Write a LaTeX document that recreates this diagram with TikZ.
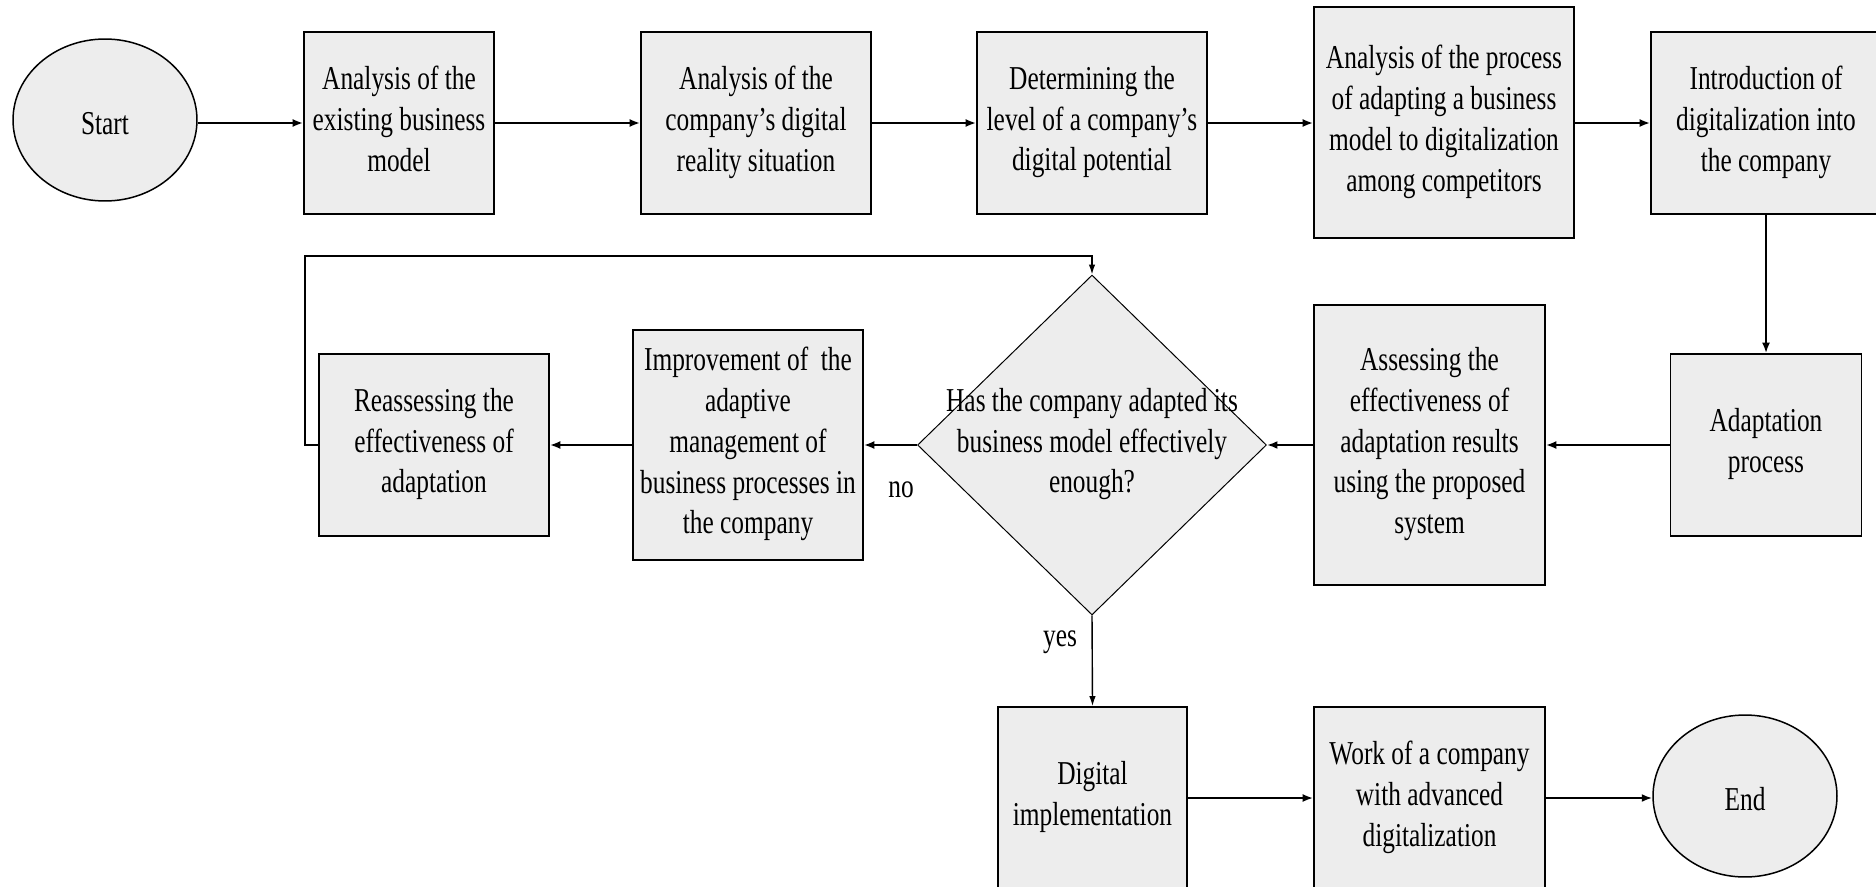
\documentclass[tikz,border=0pt]{standalone}
\usepackage{fontspec}
\setmainfont{Liberation Serif}[FakeStretch=0.76]
\usetikzlibrary{arrows.meta,shapes.geometric}
\definecolor{boxfill}{RGB}{237,237,237}
\newcommand\topstrut{\rule{0pt}{21pt}}
\newcommand\botstrut{\rule[-5pt]{0pt}{1pt}}
\tikzset{
  txt/.style={font=\fontsize{19}{23.2}\selectfont, align=center, execute at begin node=\topstrut, execute at end node=\botstrut},
  stepbox/.style={draw=black, line width=0.035cm, fill=boxfill, txt, inner sep=0pt},
  term/.style={draw=black, line width=0.03cm, fill=boxfill, ellipse, txt, inner sep=0pt, minimum width=3.68cm, minimum height=3.24cm},
  decision/.style={draw=black, line width=0.02cm, fill=boxfill, diamond, inner sep=0pt, minimum width=6.98cm, minimum height=6.8cm},
  arr/.style={line width=0.04cm, -{Latex[length=0.21cm,width=0.16cm]}},
  thinarr/.style={line width=0.028cm, -{Latex[length=0.2cm,width=0.13cm]}},
  lbl/.style={font=\fontsize{19}{23.2}\selectfont, inner sep=0pt}
}
\begin{document}
\begin{tikzpicture}[x=0.02cm,y=-0.02cm]
\useasboundingbox (0,0) rectangle (1876,886);
\clip (0,0) rectangle (1876,886);
% top row
\node[term] (start) at (105,120) {Start};
\node[stepbox, minimum width=3.8cm, minimum height=3.64cm] (b1) at (399,123) {Analysis of the\\existing business\\model};
\node[stepbox, minimum width=4.6cm, minimum height=3.64cm] (b2) at (756,123) {Analysis of the\\company’s digital\\reality situation};
\node[stepbox, minimum width=4.6cm, minimum height=3.64cm] (b3) at (1092,123) {Determining the\\level of a company’s\\digital potential};
\node[stepbox, minimum width=5.2cm, minimum height=4.62cm] (b4) at (1444,122.5) {Analysis of the process\\of adapting a business\\model to digitalization\\among competitors};
\node[stepbox, minimum width=4.6cm, minimum height=3.64cm] (b5) at (1766,123) {Introduction of\\digitalization into\\the company};
% middle row
\node[stepbox, minimum width=3.82cm, minimum height=3.64cm] (adapt) at (1766,445) {Adaptation\\process};
\node[stepbox, minimum width=4.62cm, minimum height=5.6cm] (assess) at (1429.5,445) {Assessing the\\effectiveness of\\adaptation results\\using the proposed\\system};
\node[decision] (dec) at (1092,445) {};
\node[txt, inner sep=0pt] (dectext) at (dec.center) {Has the company adapted its\\business model effectively\\enough?};
\node[stepbox, minimum width=4.6cm, minimum height=4.6cm] (improve) at (748,445) {Improvement of\ \ the\\adaptive\\management of\\business processes in\\the company};
\node[stepbox, minimum width=4.6cm, minimum height=3.64cm] (reassess) at (434,445) {Reassessing the\\effectiveness of\\adaptation};
% bottom row
\node[stepbox, minimum width=3.78cm, minimum height=3.64cm] (dig) at (1092.5,798) {Digital\\implementation};
\node[stepbox, minimum width=4.62cm, minimum height=3.64cm] (work) at (1429.5,798) {Work of a company\\with advanced\\digitalization};
\node[term] (end) at (1745,796) {End};
% labels
\node[lbl] (no) at (901,490) {no};
\node[lbl] (yes) at (1060,642) {yes};
% connectors
\draw[arr] (start.east |- b1.west) -- (b1.west);
\draw[arr] (b1) -- (b2);
\draw[arr] (b2) -- (b3);
\draw[arr] (b3) -- (b1.east -| b4.west);
\draw[arr] (b4.east |- b5.west) -- (b5.west);
\draw[arr] (b5.south) -- (adapt.north);
\draw[arr] (adapt.west) -- (assess.east);
\draw[arr] (assess.west) -- (dec.east);
\draw[arr] (dec.west) -- (improve.east);
\draw[arr] (improve.west) -- (reassess.east);
\coordinate (lp) at (305,256);
\draw[thinarr] (reassess.west) -| (lp) -| (dec.north);
\draw[thinarr] (dec.south) -- (dig.north);
\draw[arr] (dig) -- (work);
\draw[arr] (work.east) -- (end.west |- work.east);
\end{tikzpicture}
\end{document}
